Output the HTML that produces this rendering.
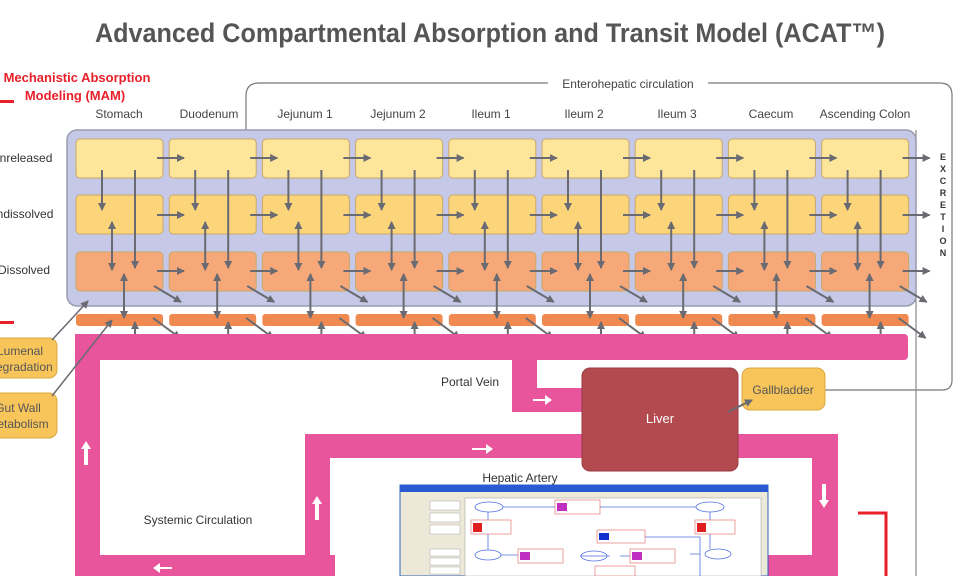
<!DOCTYPE html>
<html><head><meta charset="utf-8"><style>
html,body{margin:0;padding:0;background:#fff;width:960px;height:576px;overflow:hidden}
svg{display:block}
text{font-family:"Liberation Sans",sans-serif}
</style></head><body>
<svg id="s" width="960" height="576" viewBox="0 0 960 576" xmlns="http://www.w3.org/2000/svg">
<defs>
<marker id="a" markerWidth="8" markerHeight="8" refX="7" refY="4" orient="auto" markerUnits="userSpaceOnUse"><path d="M0,0 L8,4 L0,8 z" fill="#6a6a72"/></marker>
<marker id="b" markerWidth="8" markerHeight="8" refX="1" refY="4" orient="auto" markerUnits="userSpaceOnUse"><path d="M8,0 L0,4 L8,8 z" fill="#6a6a72"/></marker>
</defs>
<text x="95" y="42" textLength="790" lengthAdjust="spacingAndGlyphs" font-size="27" font-weight="bold" fill="#555">Advanced Compartmental Absorption and Transit Model (ACAT™)</text>
<text x="77" y="82" text-anchor="middle" font-size="13" font-weight="bold" fill="#e8202a">Mechanistic Absorption</text>
<text x="75" y="100" text-anchor="middle" font-size="13" font-weight="bold" fill="#e8202a">Modeling (MAM)</text>
<rect x="0" y="100" width="14" height="3" fill="#e8202a"/>
<rect x="0" y="321" width="14" height="3" fill="#e8202a"/>
<path d="M246,250 L246,96 Q246,83 259,83 L548,83 M708,83 L940,83 Q952,83 952,95 L952,380 Q952,390 942,390 L825,390" fill="none" stroke="#777" stroke-width="1.2"/>
<text x="628" y="88" text-anchor="middle" font-size="12" fill="#444">Enterohepatic circulation</text>
<line x1="916" y1="130" x2="916" y2="576" stroke="#888" stroke-width="1.2"/>
<g font-size="12" fill="#444" text-anchor="middle">
<text x="119" y="118">Stomach</text><text x="209" y="118">Duodenum</text><text x="305" y="118">Jejunum 1</text><text x="398" y="118">Jejunum 2</text><text x="491" y="118">Ileum 1</text><text x="584" y="118">Ileum 2</text><text x="677" y="118">Ileum 3</text><text x="771" y="118">Caecum</text><text x="865" y="118">Ascending Colon</text>
</g>
<g font-size="12" fill="#333">
<text x="-9" y="162">Unreleased</text><text x="-12" y="218">Undissolved</text><text x="-2" y="274">Dissolved</text>
</g>
<rect x="67" y="130" width="849" height="176" rx="10" fill="#c5c8e6" stroke="#9a9cb0" stroke-width="1.5"/>
<g id="boxes"></g>
<rect x="75" y="334" width="833" height="26" rx="4" fill="#e8559c"/>
<rect x="75" y="334" width="25" height="242" fill="#e8559c"/>
<rect x="75" y="555" width="260" height="21" fill="#e8559c"/>
<rect x="512" y="358" width="25" height="54" fill="#e8559c"/>
<rect x="512" y="388" width="80" height="24" fill="#e8559c"/>
<path d="M305,576 L305,434 L838,434 L838,576 L812,576 L812,458 L330,458 L330,576 Z" fill="#e8559c"/>
<rect x="760" y="555" width="78" height="21" fill="#e8559c"/>
<g fill="#fff">
<path d="M533,399 h12 v-4 l7,5 l-7,5 v-4 h-12z"/>
<path d="M472,448 h14 v-4 l7,5 l-7,5 v-4 h-14z"/>
<path d="M84,465 v-16 h-3 l5,-8 l5,8 h-3 v16z"/>
<path d="M315,520 v-16 h-3 l5,-8 l5,8 h-3 v16z"/>
<path d="M822,484 v16 h-3 l5,8 l5,-8 h-3 v-16z"/>
<path d="M172,567 h-12 v-4 l-7,5 l7,5 v-4 h12z"/>
</g>
<text x="470" y="386" text-anchor="middle" font-size="12" fill="#333">Portal Vein</text>
<text x="520" y="482" text-anchor="middle" font-size="12" fill="#333">Hepatic Artery</text>
<text x="198" y="524" text-anchor="middle" font-size="12" fill="#333">Systemic Circulation</text>
<rect x="582" y="368" width="156" height="103" rx="8" fill="#b34a50" stroke="#9a3a40"/>
<text x="660" y="423" text-anchor="middle" font-size="13" fill="#fff">Liver</text>
<rect x="742" y="368" width="83" height="42" rx="8" fill="#f8c55a" stroke="#d8a840"/>
<text x="783" y="394" text-anchor="middle" font-size="12" fill="#555">Gallbladder</text>
<line x1="728" y1="412" x2="752" y2="400" stroke="#6a6a72" stroke-width="2" marker-end="url(#a)"/>
<rect x="-12" y="338" width="69" height="40" rx="8" fill="#f8c55a" stroke="#d8a840"/>
<text x="20" y="355" text-anchor="middle" font-size="12" fill="#555">Lumenal</text>
<text x="20" y="371" text-anchor="middle" font-size="12" fill="#555">Degradation</text>
<rect x="-12" y="393" width="69" height="45" rx="8" fill="#f8c55a" stroke="#d8a840"/>
<text x="18" y="412" text-anchor="middle" font-size="12" fill="#555">Gut Wall</text>
<text x="18" y="428" text-anchor="middle" font-size="12" fill="#555">Metabolism</text>
<line x1="52" y1="340" x2="88" y2="301" stroke="#6a6a72" stroke-width="1.5" marker-end="url(#a)"/>
<line x1="52" y1="396" x2="112" y2="320" stroke="#6a6a72" stroke-width="1.5" marker-end="url(#a)"/>
<g font-size="9" font-weight="bold" fill="#333" text-anchor="middle">
<text x="943" y="160">E</text><text x="943" y="172">X</text><text x="943" y="184">C</text><text x="943" y="196">R</text><text x="943" y="208">E</text><text x="943" y="220">T</text><text x="943" y="232">I</text><text x="943" y="244">O</text><text x="943" y="256">N</text>
</g>
<rect x="400" y="485" width="368" height="91" fill="#ece9d8" stroke="#3060c0"/>
<rect x="400" y="485" width="368" height="7" fill="#2a5ad0"/>
<rect x="465" y="498" width="296" height="78" fill="#fff" stroke="#999" stroke-width="0.5"/>
<g fill="#fff" stroke="#aaa" stroke-width="0.5"><rect x="430" y="501" width="30" height="9"/><rect x="430" y="513" width="30" height="9"/><rect x="430" y="525" width="30" height="9"/><rect x="430" y="549" width="30" height="7"/><rect x="430" y="558" width="30" height="7"/><rect x="430" y="567" width="30" height="7"/></g>
<g stroke="#5070e0" stroke-width="0.8" fill="none">
<ellipse cx="489" cy="507" rx="14" ry="5"/><ellipse cx="710" cy="507" rx="14" ry="5"/><ellipse cx="488" cy="555" rx="13" ry="5"/><ellipse cx="594" cy="556" rx="13" ry="5"/><ellipse cx="718" cy="554" rx="13" ry="5"/>
<path d="M503,507 H555 M575,507 H696 M488,512 V550 M710,512 V549 M501,555 H520 M580,556 H610 M620,556 H640 M700,554 H690 M640,537 H700 V576"/>
</g>
<g stroke="#e06060" stroke-width="0.6" fill="#fff"><rect x="555" y="500" width="45" height="14"/><rect x="471" y="520" width="40" height="14"/><rect x="695" y="520" width="40" height="14"/><rect x="597" y="530" width="48" height="13"/><rect x="518" y="549" width="45" height="14"/><rect x="630" y="549" width="45" height="14"/><rect x="595" y="566" width="40" height="10"/></g>
<g><rect x="557" y="503" width="10" height="8" fill="#c030c0"/><rect x="473" y="523" width="9" height="9" fill="#e02020"/><rect x="697" y="523" width="9" height="9" fill="#e02020"/><rect x="599" y="533" width="10" height="7" fill="#1030d0"/><rect x="520" y="552" width="10" height="8" fill="#c030c0"/><rect x="632" y="552" width="10" height="8" fill="#c030c0"/></g>
<path d="M858,513 H886 V576" fill="none" stroke="#e8202a" stroke-width="3"/>
</svg>
<script>
var s=document.getElementById('boxes'),NS='http://www.w3.org/2000/svg';
function el(t,a){var e=document.createElementNS(NS,t);for(var k in a)e.setAttribute(k,a[k]);s.appendChild(e);return e;}
var rows=[[139,'#fde59a'],[195,'#fcd57a'],[252,'#f6a878']];
for(var i=0;i<9;i++){var x=76+i*93.2;
rows.forEach(function(r){el('rect',{x:x,y:r[0],width:87,height:39,rx:4,fill:r[1],stroke:'#c9a86a','stroke-width':1});});
el('rect',{x:x,y:314,width:87,height:12,rx:3,fill:'#f08a50'});}
function ln(x1,y1,x2,y2,e,b){var a={x1:x1,y1:y1,x2:x2,y2:y2,stroke:'#6a6a72','stroke-width':2};if(e)a['marker-end']='url(#a)';if(b)a['marker-start']='url(#b)';el('line',a);}
for(var i=0;i<9;i++){var x=76+i*93.2;
[158,215,271].forEach(function(y){ln(x+81,y,x+108,y,1);});
ln(x+26,170,x+26,210,1);
ln(x+59,170,x+59,268,1);
ln(x+36,222,x+36,270,1,1);
ln(x+48,274,x+48,318,1,1);
ln(x+59,322,x+59,356,1,1);
ln(x+78,286,x+105,302,1);
ln(x+77,318,x+104,338,1);}
</script>
</body></html>
